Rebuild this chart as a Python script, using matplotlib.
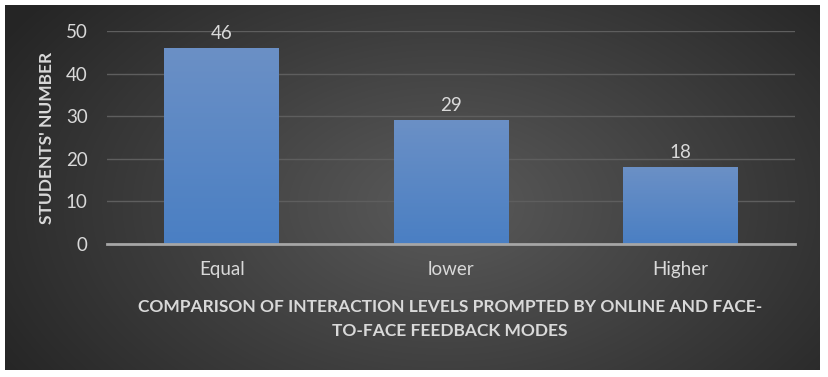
import numpy as np
import matplotlib
matplotlib.use("Agg")
import matplotlib.pyplot as plt
from matplotlib.colors import LinearSegmentedColormap

categories = ["Equal", "lower", "Higher"]
values = [46, 29, 18]
yticks = [0, 10, 20, 30, 40, 50]
xlabel = "COMPARISON OF INTERACTION LEVELS PROMPTED BY ONLINE AND FACE-\nTO-FACE FEEDBACK MODES"
ylabel = "STUDENTS' NUMBER"

plt.rcParams['font.family'] = ['Lato', 'DejaVu Sans']
W, H = 829, 377
fig = plt.figure(figsize=(W / 100, H / 100), dpi=100)
fig.patch.set_facecolor("white")

# background panel with radial gradient
bg = fig.add_axes([5 / W, 1 - 370 / H, 815 / W, 365 / H])
bg.set_axis_off()
yy, xx = np.mgrid[0:365, 0:815]
cx, cy = 440, 200
r = np.sqrt(((xx - cx) / 520) ** 2 + ((yy - cy) / 330) ** 2)
r = np.clip(r, 0, 1)
cmap_bg = LinearSegmentedColormap.from_list("bg", ["#5a5a5a", "#252525"])
bg.imshow(r, cmap=cmap_bg, aspect="auto", extent=[0, 1, 0, 1], vmin=0, vmax=1)
bg.set_xlim(0, 1)
bg.set_ylim(0, 1)

# main axes
x0, x1 = 107, 795
y0px, y50px = 244, 31
ax = fig.add_axes([x0 / W, 1 - y0px / H, (x1 - x0) / W, (y0px - y50px) / H])
ax.set_facecolor("none")
ax.set_xlim(-0.5, 2.5)
ax.set_ylim(0, 50)

xpos = np.arange(len(categories))
bars = ax.bar(xpos, values, width=0.5, color="#5585c5", zorder=2)
grad = np.linspace(0, 1, 256).reshape(-1, 1)
cmap_bar = LinearSegmentedColormap.from_list("bar", ["#4a7fc3", "#6b90c6"])
for b in bars:
    bx, by = b.get_x(), b.get_y()
    bw, bh = b.get_width(), b.get_height()
    im = ax.imshow(grad, cmap=cmap_bar, aspect="auto", origin="lower",
                   extent=[bx, bx + bw, by, by + bh], zorder=3)
    im.set_clip_path(b)
for xi, v in zip(xpos, values):
    ax.annotate(str(v), (xi, v), xytext=(0, 4.5), textcoords="offset points",
                ha="center", va="bottom", color="#d9d9d9", fontsize=13.5)

ax.set_yticks(yticks)
ax.set_xticks(xpos)
ax.set_xticklabels(categories)
ax.grid(axis="y", color="#5e5e5e", linewidth=1, zorder=1)
ax.set_axisbelow(True)
for s in ["top", "right", "left"]:
    ax.spines[s].set_visible(False)
ax.spines["bottom"].set_color("#a6a6a6")
ax.spines["bottom"].set_linewidth(2)
ax.spines["bottom"].set_zorder(4)
ax.tick_params(axis="both", length=0, colors="#d9d9d9", labelsize=13.5)
ax.tick_params(axis="y", pad=14)
ax.tick_params(axis="x", pad=12)
ax.set_xlim(-0.5, 2.5)
ax.set_ylim(0, 50)

fig.text(450 / W, 1 - 319 / H, xlabel, ha="center", va="center",
         color="#d9d9d9", fontsize=12.5, fontweight="bold", linespacing=1.55)
fig.text(47 / W, 1 - 138 / H, ylabel, ha="center", va="center", rotation=90,
         color="#d9d9d9", fontsize=12.5, fontweight="bold")

fig.savefig("out.png", dpi=100, facecolor=fig.get_facecolor())
